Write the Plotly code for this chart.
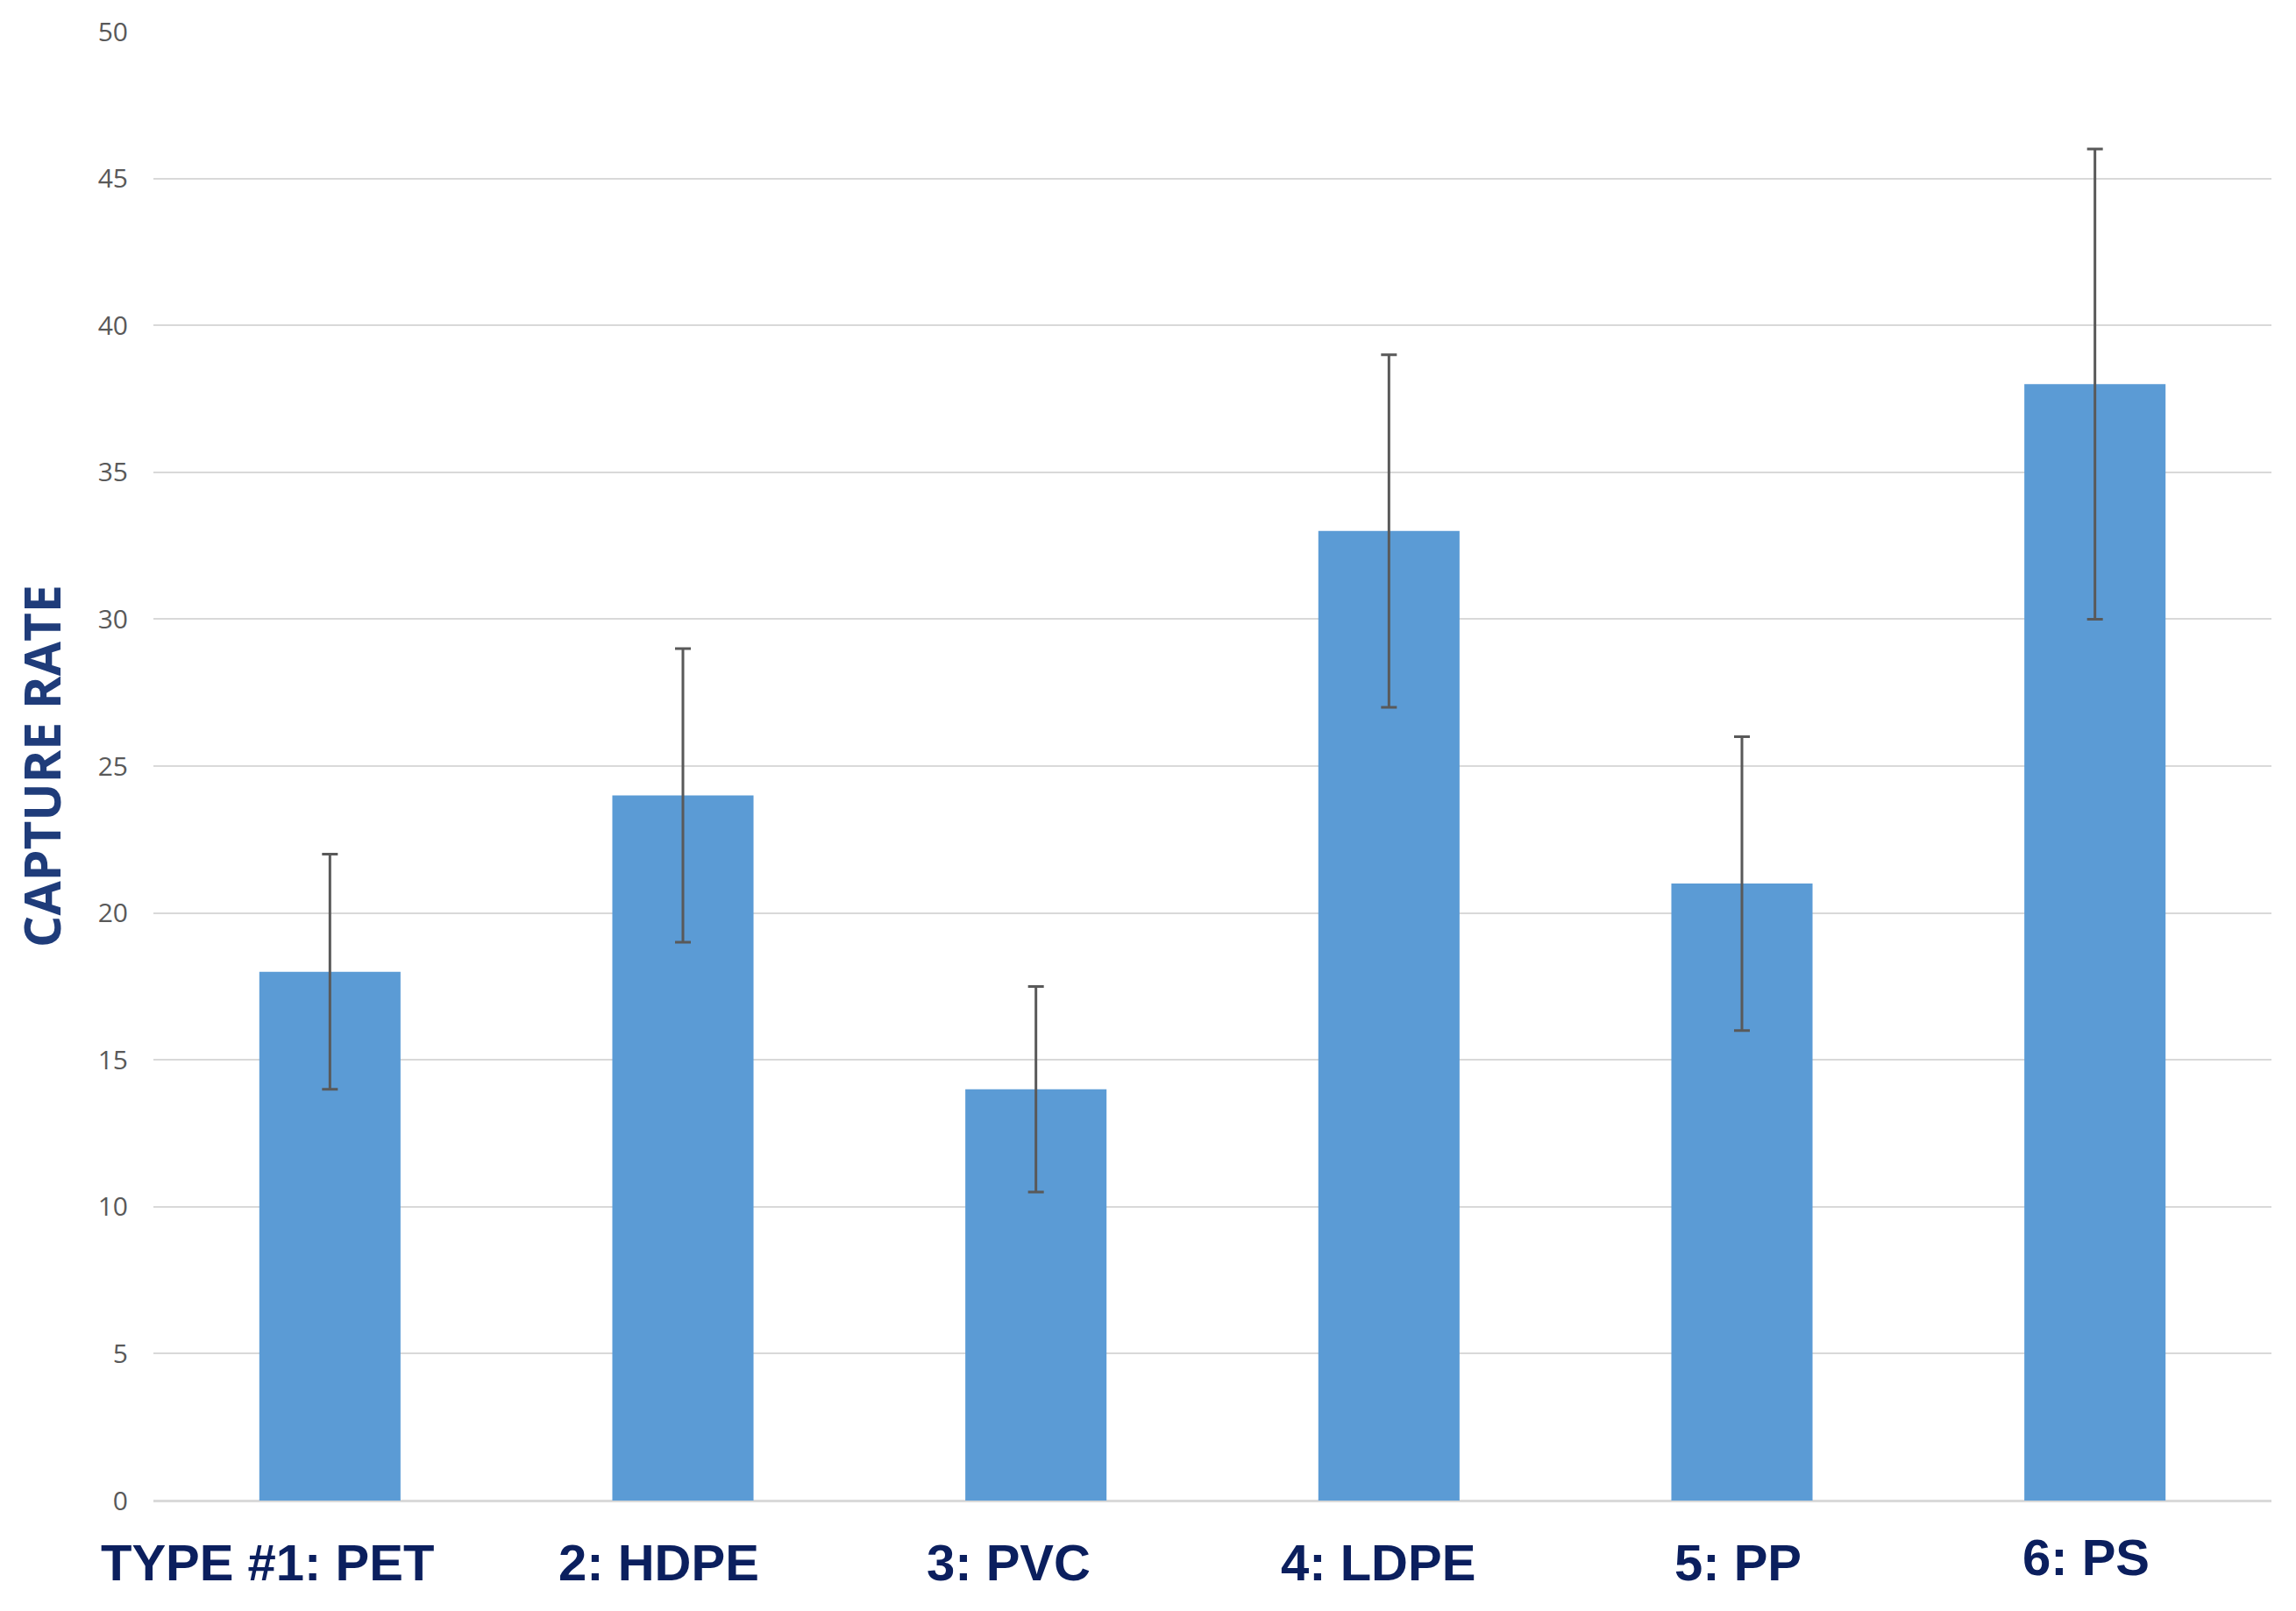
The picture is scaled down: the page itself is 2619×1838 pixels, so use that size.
import plotly.graph_objects as go

categories = ["TYPE #1: PET", "2: HDPE", "3: PVC", "4: LDPE", "5: PP", "6: PS"]
capture_rate = [18, 24, 14, 33, 21, 38]
error = [4, 5, 3.5, 6, 5, 8]
y_ticks = [0, 5, 10, 15, 20, 25, 30, 35, 40, 45, 50]

# visual offsets of category labels (pixels), as in the reference
label_xshift = [-71, -28, -31, -12, -5, -10]
label_yshift = [0, 0, 0, 0, 0, 6]

fig = go.Figure()
fig.add_trace(go.Bar(
    x=categories, y=capture_rate,
    marker=dict(color="#5B9BD5", line=dict(width=0)),
    width=0.4,
    error_y=dict(type="data", array=error, visible=True,
                 color="#595959", thickness=3, width=9),
))

for i, c in enumerate(categories):
    fig.add_annotation(
        x=c, xref="x", y=0, yref="paper",
        text=c, showarrow=False,
        yanchor="middle", xanchor="center",
        xshift=label_xshift[i], yshift=-70 + label_yshift[i],
        font=dict(family="Liberation Sans, Arial",
                  size=58, color="#0B1F5E", weight="bold"),
    )

fig.update_layout(
    width=2611, height=1830,
    margin=dict(l=167, r=28, t=28, b=126, autoexpand=False),
    paper_bgcolor="white", plot_bgcolor="white",
    showlegend=False,
)
fig.update_xaxes(
    range=[-0.5, 5.5], automargin=False,
    showticklabels=False, showgrid=False, showline=False, zeroline=False,
    categoryorder="array", categoryarray=categories,
)
fig.update_yaxes(
    range=[0, 50], tickvals=y_ticks, automargin=False,
    showgrid=True, gridcolor="#D9D9D9", gridwidth=2,
    zeroline=True, zerolinecolor="#D9D9D9", zerolinewidth=3,
    showline=False,
    tickfont=dict(family="Open Sans, Noto Sans", size=30, color="#595959"),
    ticklabelstandoff=28,
    title=dict(text="CAPTURE RATE", standoff=30,
               font=dict(family="Open Sans, Noto Sans", size=57, color="#1F3C7A", weight="bold")),
)

fig.write_html("out.html")
